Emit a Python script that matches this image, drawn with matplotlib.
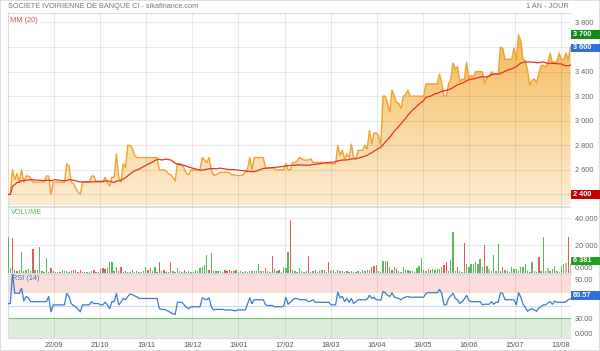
import numpy as np
import pandas as pd
import matplotlib
matplotlib.use('Agg')
import matplotlib.pyplot as plt
from matplotlib.patches import Rectangle, PathPatch
from matplotlib.colors import LinearSegmentedColormap

plt.rcParams['font.family'] = ['Liberation Sans', 'DejaVu Sans']

title = 'SOCIETE IVOIRIENNE DE BANQUE CI - sikafinance.com'
period = '1 AN - JOUR'
date_labels = ['22/09', '21/10', '19/11', '18/12', '19/01', '17/02',
               '18/03', '16/04', '18/05', '16/06', '15/07', '13/08']

# closing prices (FCFA), one per session
price = [
    2400, 2400, 2600, 2520, 2570, 2500, 2600, 2500, 2550, 2550,
    2530, 2500, 2500, 2500, 2500, 2500, 2500, 2550, 2550, 2400,
    2500, 2500, 2500, 2500, 2500, 2500, 2650, 2630, 2500, 2490,
    2450, 2420, 2400, 2500, 2500, 2500, 2500, 2550, 2550, 2500,
    2500, 2500, 2500, 2540, 2500, 2470, 2540, 2540, 2730, 2540,
    2500, 2650, 2620, 2800, 2800, 2780, 2720, 2700, 2700, 2700,
    2700, 2700, 2700, 2700, 2700, 2700, 2700, 2600, 2600, 2600,
    2590, 2570, 2560, 2540, 2510, 2650, 2650, 2645, 2610, 2570,
    2560, 2600, 2600, 2600, 2600, 2600, 2700, 2680, 2660, 2700,
    2600, 2555, 2560, 2570, 2580, 2580, 2580, 2580, 2580, 2560,
    2560, 2555, 2555, 2555, 2560, 2580, 2600, 2700, 2600, 2700,
    2700, 2700, 2700, 2700, 2615, 2615, 2615, 2615, 2610, 2600,
    2600, 2600, 2600, 2650, 2600, 2600, 2660, 2660, 2670, 2700,
    2690, 2680, 2680, 2680, 2690, 2660, 2660, 2660, 2660, 2660,
    2660, 2650, 2650, 2650, 2650, 2650, 2800, 2720, 2760, 2690,
    2730, 2700, 2810, 2700, 2690, 2760, 2760, 2760, 2800, 2770,
    2920, 2810, 2900, 2900, 2880, 2800, 3200, 3200, 3140, 3070,
    3250, 3200, 3150, 3140, 3100, 3200, 3210, 3250, 3200, 3200,
    3200, 3200, 3200, 3200, 3200, 3300, 3300, 3300, 3300, 3300,
    3300, 3380, 3310, 3200, 3200, 3300, 3340, 3470, 3420, 3440,
    3320, 3340, 3330, 3475, 3340, 3370, 3355, 3400, 3400, 3400,
    3400, 3300, 3355, 3355, 3400, 3380, 3380, 3380, 3600, 3590,
    3500, 3500, 3500, 3500, 3590, 3500, 3700, 3650, 3500, 3490,
    3410, 3290, 3330, 3340, 3310, 3390, 3450, 3450, 3440, 3470,
    3550, 3470, 3480, 3480, 3550, 3500, 3500, 3550, 3500, 3600,
]

# RSI (14)
rsi = [
    53, 53, 100, 69, 69, 69, 77, 57, 64, 62,
    56, 56, 56, 56, 56, 56, 56, 56, 64, 40,
    51, 51, 51, 51, 51, 51, 69, 64, 53, 50,
    48, 44, 40, 51, 51, 51, 51, 56, 53, 53,
    53, 51, 51, 55, 51, 45, 56, 56, 69, 51,
    55, 61, 59, 64, 68, 67, 65, 64, 61, 61,
    61, 61, 61, 61, 61, 61, 61, 45, 44, 44,
    43, 41, 39, 37, 36, 55, 55, 55, 51, 47,
    45, 48, 48, 48, 48, 48, 62, 60, 59, 62,
    48, 43, 44, 44, 44, 44, 43, 43, 43, 43,
    42, 42, 43, 43, 43, 43, 52, 62, 53, 59,
    59, 59, 59, 59, 51, 50, 50, 50, 48, 48,
    48, 48, 49, 63, 52, 55, 59, 61, 61, 59,
    59, 59, 59, 56, 57, 59, 55, 55, 55, 55,
    55, 55, 55, 51, 51, 51, 71, 62, 64, 56,
    61, 55, 61, 53, 56, 59, 59, 59, 59, 60,
    66, 61, 63, 59, 59, 58, 72, 70, 66, 64,
    70, 63, 62, 61, 59, 62, 63, 64, 63, 63,
    63, 63, 63, 63, 63, 69, 70, 70, 70, 70,
    70, 75, 69, 51, 51, 61, 65, 69, 61, 59,
    53, 56, 60, 66, 58, 56, 56, 56, 56, 56,
    51, 52, 52, 52, 56, 52, 55, 55, 70, 69,
    59, 59, 59, 59, 59, 51, 70, 63, 52, 47,
    41, 44, 45, 43, 41, 46, 48, 51, 51, 54,
    56, 52, 57, 55, 55, 55, 55, 56, 59, 60.57,
]

# traded volume, thousands of shares
volume_k = [
    25.9, 3.2, 25.1, 1.5, 1.2, 1.5, 15.4, 0.8, 2.0, 2.7,
    0.8, 17.3, 2.0, 1.5, 18.5, 0.8, 0.5, 10.7, 0.5, 3.4,
    0.8, 0.4, 0.4, 0.5, 2.0, 0.8, 1.0, 0.5, 0.8, 2.0,
    2.0, 0.6, 1.5, 0.5, 0.4, 0.6, 0.4, 0.8, 2.0, 0.6,
    0.5, 2.7, 3.2, 2.7, 3.2, 8.0, 8.0, 0.8, 4.0, 0.8,
    4.0, 0.6, 0.8, 0.5, 0.6, 2.0, 0.5, 0.8, 0.5, 0.6,
    0.8, 4.0, 2.0, 3.2, 0.8, 3.7, 0.6, 8.0, 0.8, 2.0,
    0.6, 0.5, 8.0, 0.8, 0.6, 3.2, 0.8, 0.5, 1.5, 0.6,
    0.8, 0.5, 0.6, 1.5, 0.8, 3.4, 3.9, 5.6, 13.2, 2.0,
    14.4, 0.8, 1.0, 0.8, 1.0, 0.6, 1.5, 1.2, 1.5, 1.2,
    0.8, 1.5, 0.6, 0.8, 0.6, 0.8, 0.6, 1.0, 0.8, 1.0,
    0.8, 5.9, 0.8, 1.0, 3.4, 0.8, 0.6, 12.0, 2.7, 0.8,
    1.5, 0.6, 3.9, 3.4, 15.4, 38.5, 2.0, 0.8, 0.6, 3.4,
    0.8, 0.6, 0.8, 12.2, 0.6, 0.8, 2.0, 0.6, 0.8, 2.0,
    1.5, 0.6, 8.0, 0.8, 1.5, 0.6, 1.5, 0.8, 1.2, 0.6,
    1.0, 0.6, 0.8, 0.5, 0.6, 0.8, 0.5, 1.5, 1.2, 1.5,
    1.5, 3.9, 4.6, 5.6, 0.8, 0.6, 8.3, 8.3, 8.3, 3.9,
    2.0, 4.4, 2.7, 0.8, 0.6, 3.9, 1.5, 1.5, 1.2, 0.8,
    0.6, 3.2, 5.1, 10.5, 2.0, 0.8, 2.7, 1.5, 2.7, 2.2,
    2.7, 2.4, 3.9, 5.6, 8.0, 0.8, 9.5, 29.5, 0.8, 3.9,
    0.8, 0.6, 21.7, 6.3, 3.9, 5.9, 6.3, 7.6, 6.3, 10.0,
    3.9, 20.3, 5.1, 2.7, 0.8, 13.2, 0.8, 21.0, 0.8, 3.9,
    1.5, 0.8, 0.6, 3.9, 2.7, 2.7, 0.8, 3.9, 3.9, 6.3,
    0.8, 0.6, 8.0, 0.8, 0.6, 11.2, 0.8, 25.9, 0.8, 3.2,
    0.8, 2.7, 5.1, 0.8, 0.6, 5.1, 6.3, 6.8, 25.9, 6.381,
]
# bar colour per session: g = hausse, r = baisse, t = inchange
vol_side = ('ggrgrggggg' 'grggggggrr' 'gggrggggrr' 'rrrgggggrr' 'ggrrgggggr'
            'rgrggggrgg' 'ggrgggrrgr' 'grrgggggrr' 'gggggggggr' 'ggggggrrrr'
            'grgggggggg' 'ggggrggrgg' 'rggggrgggg' 'gggrggrggg' 'rgrgggrgrg'
            'rggggggggg' 'grrgggggrg' 'rgrggggggg' 'ggggrggrgg' 'gggrrggggr'
            'ggrggggggg' 'grgtgggggr' 'gggggggggg' 'gggggrgggt' 'gggggggtrt')

price_ticks = [2400, 2600, 2800, 3000, 3200, 3400, 3600, 3800]
vol_ticks = [0, 20000, 40000]
vol_tick_labels = ['0.000', '20 000', '40 000']
rsi_ticks = [0, 30, 90]
rsi_tick_labels = ['0.000', '30.00', '90.00']

price = np.array(price, dtype=float)
volume = np.array(volume_k) * 1000
rsi = np.array(rsi, dtype=float)
n = len(price)
x = np.arange(n)
mm20 = pd.Series(price).rolling(20, min_periods=1).mean()


def fmt(v):
    return f'{v:,.0f}'.replace(',', ' ')


W, H = 600, 351
fig = plt.figure(figsize=(W / 100, H / 100), dpi=100)
fig.patch.set_facecolor('white')


def px_axes(left, top, right, bottom):
    return fig.add_axes([left / W, 1 - bottom / H, (right - left) / W, (bottom - top) / H])


ax_p = px_axes(8, 12.5, 570.5, 205.5)
ax_v = px_axes(8, 207, 570.5, 272.5)
ax_r = px_axes(8, 273.5, 570.5, 337.5)

tick_pos = [20.4 + 20.4 * k for k in range(len(date_labels))]
grid_c = (0, 0, 0, 0.085)

for ax in (ax_p, ax_v, ax_r):
    ax.set_xlim(0, n - 1)
    for s in ax.spines.values():
        s.set_color('#dcdcdc')
        s.set_linewidth(0.8)
    ax.spines['right'].set_visible(False)
    ax.yaxis.tick_right()
    ax.tick_params(axis='y', length=0, pad=3, labelsize=5.3, labelcolor='#666666')
    ax.tick_params(axis='x', length=0)
    for t in tick_pos:
        ax.axvline(t, color=grid_c, lw=0.7, zorder=3)

# --- price panel
ymin, ymax = 2310, 3881
ax_p.set_ylim(ymin, ymax)
# labels under the min / last tags are hidden by them on the original
hidden = {price.min(), price[-1]}
ax_p.set_yticks(price_ticks, ['' if v in hidden else fmt(v) for v in price_ticks])
ax_p.set_xticks([])
for v in price_ticks:
    ax_p.axhline(v, color=grid_c, lw=0.7, zorder=3)

poly = ax_p.fill_between(x, price, ymin, color='none', lw=0)
clip = PathPatch(poly.get_paths()[0], facecolor='none', edgecolor='none')
ax_p.add_patch(clip)
cmap = LinearSegmentedColormap.from_list('sika', ['#fdecd2', '#f9d596', '#f5b75a'])
grad = np.linspace(0, 1, 256).reshape(-1, 1)
im = ax_p.imshow(grad, extent=[0, n - 1, ymin, 3750], origin='lower', aspect='auto',
                 cmap=cmap, zorder=1)
im.set_clip_path(clip)
ax_p.set_ylim(ymin, ymax)
ax_p.plot(x, price, color='#f0a32c', lw=1.0, zorder=4)
ax_p.plot(x, mm20, color='#e2322a', lw=0.9, zorder=5)
ax_p.text(2 / 562, 1 - 5 / 193, 'MM (20)', transform=ax_p.transAxes, color='#d9534f',
          fontsize=5.3, va='top', ha='left')

# --- volume panel
ax_v.set_ylim(0, 48100)
ax_v.set_yticks(vol_ticks, vol_tick_labels)
ax_v.get_yticklabels()[0].set_va('bottom')
ax_v.set_xticks([])
for v in vol_ticks[1:]:
    ax_v.axhline(v, color=grid_c, lw=0.7, zorder=1)
side_col = {'g': '#5cb85c', 'r': '#e9585a', 't': '#c9b98a'}
ax_v.bar(x, volume, width=0.6, color=[side_col[c] for c in vol_side], zorder=4)
ax_v.text(3 / 562, 1 - 2.5 / 65.5, 'VOLUME', transform=ax_v.transAxes, color='#5cb85c',
          fontsize=5.3, va='top', ha='left')

# --- RSI panel
ax_r.set_ylim(0, 100)
ax_r.axhspan(70, 100, color='#fddcdc', lw=0, zorder=0)
ax_r.axhspan(0, 30, color='#dcefd9', lw=0, zorder=0)
ax_r.axhline(30, color='#7fbf7f', lw=0.8, zorder=2)
ax_r.axhline(50, color='#c6dcf2', lw=0.8, zorder=2)
ax_r.plot(x, rsi, color='#3b7cc7', lw=0.9, zorder=5)
ax_r.set_yticks(rsi_ticks, rsi_tick_labels)
ax_r.get_yticklabels()[0].set_va('bottom')
ax_r.set_xticks(tick_pos, date_labels)
ax_r.tick_params(axis='x', labelsize=5.3, labelcolor='#555555', pad=3)
ax_r.text(4 / 562, 1 - 2 / 64, 'RSI (14)', transform=ax_r.transAxes, color='#4a72b8',
          fontsize=5.3, va='top', ha='left')

# --- header
fig.text(8 / W, 1 - 6 / H, title, fontsize=5.3, color='#777777', va='center', ha='left')
fig.text(569 / W, 1 - 6 / H, period, fontsize=5.3, color='#777777', va='center', ha='right')


def tag(ax, val, text, color, shift=0.0):
    # shift in pixels, positive = up
    fy = (ax.transData.transform((0, val))[1] + shift) / H
    h = 8.5 / H
    fig.add_artist(Rectangle((571 / W, fy - h / 2), 29 / W, h, transform=fig.transFigure,
                             facecolor=color, edgecolor='none', zorder=8))
    fig.text(573 / W, fy, text, fontsize=5.3, color='white', fontweight='bold',
             va='center', ha='left', zorder=9)


tag(ax_p, price.max(), fmt(price.max()), '#168a16')
tag(ax_p, price[-1], fmt(price[-1]), '#2f6fdc', shift=-0.8)
tag(ax_p, price.min(), fmt(price.min()), '#c40000')
tag(ax_v, volume[-1], fmt(volume[-1]), '#22a022', shift=3)
tag(ax_r, rsi[-1], f'{rsi[-1]:.2f}', '#2f6fdc', shift=3)

fig.add_artist(Rectangle((0, 0), 1, 1, transform=fig.transFigure, fill=False,
                         edgecolor='#d8d8d8', lw=1.2))

fig.savefig('out.png', dpi=100)
